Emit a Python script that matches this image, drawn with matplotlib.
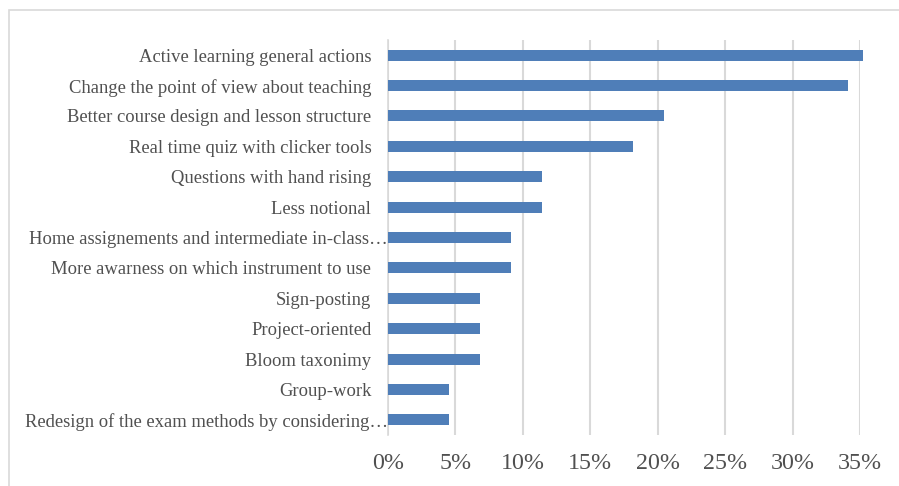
import matplotlib.pyplot as plt
from matplotlib.patches import Rectangle
from matplotlib.transforms import ScaledTranslation

categories = [
    'Active learning general actions',
    'Change the point of view about teaching',
    'Better course design and lesson structure',
    'Real time quiz with clicker tools',
    'Questions with hand rising',
    'Less notional',
    'Home assignements and intermediate in-class…',
    'More awarness on which instrument to use',
    'Sign-posting',
    'Project-oriented',
    'Bloom taxonimy',
    'Group-work',
    'Redesign of the exam methods by considering…',
]
values = [35.2, 34.1, 20.5, 18.2, 11.4, 11.4, 9.1, 9.1, 6.8, 6.8, 6.8, 4.5, 4.5]
xticks = [0, 5, 10, 15, 20, 25, 30, 35]

plt.rcParams['font.family'] = ['Liberation Serif', 'DejaVu Serif']
txt = '#505050'

fig = plt.figure(figsize=(8.99, 4.86), dpi=100)
ax = fig.add_axes([388/899, 51/486, (860-388)/899, (435-40)/486])

# light frame around the chart area
fig.patches.append(Rectangle((9/899, -0.1), 1.2, (486-10)/486 + 0.1,
                             transform=fig.transFigure, fill=False,
                             edgecolor='#D9D9D9', linewidth=1.2))

ypos = list(range(len(categories)))
ax.barh(ypos, [v / 100 for v in values], height=0.36, color='#4F7EB8',
        zorder=3, clip_on=False)

ax.set_ylim(len(categories) - 0.5, -0.5)
ax.set_xlim(0, 0.35)
ax.set_xticks([t / 100 for t in xticks])
ax.set_xticklabels([f'{t}%' for t in xticks], fontsize=17.3, color=txt)
ax.set_yticks(ypos)
ax.set_yticklabels(categories, fontsize=13.4, color=txt)

ax.grid(axis='x', color='#D9D9D9', linewidth=1.5, zorder=0)
for s in ['top', 'right', 'bottom']:
    ax.spines[s].set_visible(False)
ax.spines['left'].set_color('#D9D9D9')
ax.spines['left'].set_linewidth(1.2)
ax.tick_params(axis='y', length=0, pad=12)
ax.tick_params(axis='x', length=0, pad=13)

# truncated labels run up to the axis
for lab in ax.get_yticklabels():
    if lab.get_text().endswith('…'):
        lab.set_transform(lab.get_transform() +
                          ScaledTranslation(12/72, 0, fig.dpi_scale_trans))

fig.savefig('out.png', dpi=100)
